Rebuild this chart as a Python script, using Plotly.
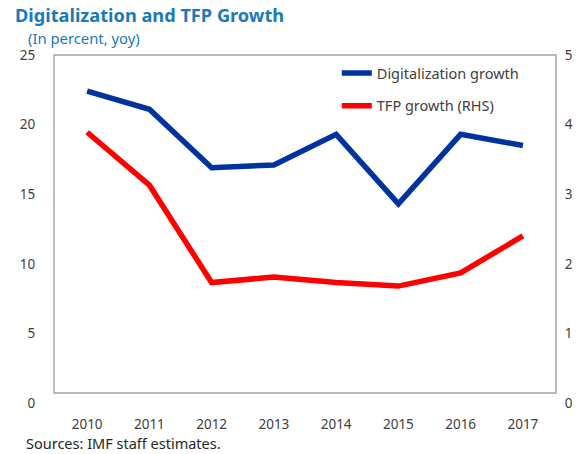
import plotly.graph_objects as go

years = ["2010", "2011", "2012", "2013", "2014", "2015", "2016", "2017"]
digitalization_growth = [22.4, 21.1, 16.9, 17.1, 19.3, 14.3, 19.3, 18.5]
tfp_growth_rhs = [3.89, 3.13, 1.73, 1.81, 1.73, 1.68, 1.87, 2.40]
left_ticks = [0, 5, 10, 15, 20, 25]
right_ticks = [0, 1, 2, 3, 4, 5]

BLUE = "#0033A0"
RED = "#FF0000"
TITLE_BLUE = "#1A7AB8"
TXT = "#404040"
FONT = "Noto Sans"

OFF = 8  # page body margin offset
W, H = 585 - OFF, 454 - OFF
# reference pixel geometry (page coords) converted to figure coords
L = 45 - OFF
T = 55 - OFF
B = H - (403 - OFF)
R = W - (554 - OFF)
pw, ph = W - L - R, H - T - B

def px_x(px):
    return (px - OFF - L) / pw

def px_y(py):
    return (H - B - (py - OFF)) / ph

fig = go.Figure()
fig.add_trace(go.Scatter(
    x=years, y=digitalization_growth, mode="lines", name="Digitalization growth",
    line=dict(color=BLUE, width=5.5), legendgroup="a", yaxis="y"))
fig.add_trace(go.Scatter(
    x=years, y=tfp_growth_rhs, mode="lines", name="TFP growth (RHS)",
    line=dict(color=RED, width=5.5), legendgroup="b", yaxis="y2"))

fig.update_layout(
    width=W, height=H,
    margin=dict(l=L, r=R, t=T, b=B),
    paper_bgcolor="white", plot_bgcolor="white",
    font=dict(family=FONT, size=13.5, color=TXT),
    title=dict(text="<b>Digitalization and TFP Growth</b>", xref="container", yref="container",
               x=(15 - OFF) / W, xanchor="left", y=1 - (15.5 - OFF) / H, yanchor="middle",
               font=dict(family=FONT, size=18.2, color=TITLE_BLUE)),
    xaxis=dict(type="category", range=[-0.5, 7.5], showgrid=False, showline=False,
               zeroline=False, ticks="outside", ticklen=9, tickcolor="rgba(0,0,0,0)",
               tickfont=dict(size=13.5, color=TXT)),
    yaxis=dict(range=[0, 25], tickvals=left_ticks, showgrid=False, showline=False,
               zeroline=False, ticks="outside", ticklen=17, tickcolor="rgba(0,0,0,0)",
               tickfont=dict(size=13.5, color=TXT)),
    yaxis2=dict(range=[0, 5], tickvals=right_ticks, overlaying="y", side="right",
                showgrid=False, showline=False, zeroline=False, ticks="outside",
                ticklen=7, tickcolor="rgba(0,0,0,0)", tickfont=dict(size=13.5, color=TXT)),
    legend=dict(x=px_x(332), y=px_y(57), xanchor="left", yanchor="top",
                bgcolor="rgba(0,0,0,0)", tracegroupgap=11,
                font=dict(size=14.5, color=TXT)),
    showlegend=True,
)

fig.add_shape(type="rect", xref="paper", yref="paper",
              x0=px_x(43), x1=px_x(556), y0=px_y(393), y1=px_y(55),
              line=dict(color="#A6A6A6", width=1.5), fillcolor="rgba(0,0,0,0)", layer="below")

fig.add_annotation(text="(In percent, yoy)", xref="paper", yref="paper",
                   x=px_x(14), y=px_y(38), xanchor="left", yanchor="middle", showarrow=False,
                   font=dict(family=FONT, size=14.8, color=TITLE_BLUE))
fig.add_annotation(text="Sources: IMF staff estimates.", xref="paper", yref="paper",
                   x=px_x(12), y=px_y(443), xanchor="left", yanchor="middle", showarrow=False,
                   font=dict(family=FONT, size=14.5, color="#262626"))

fig.write_html("out.html")
